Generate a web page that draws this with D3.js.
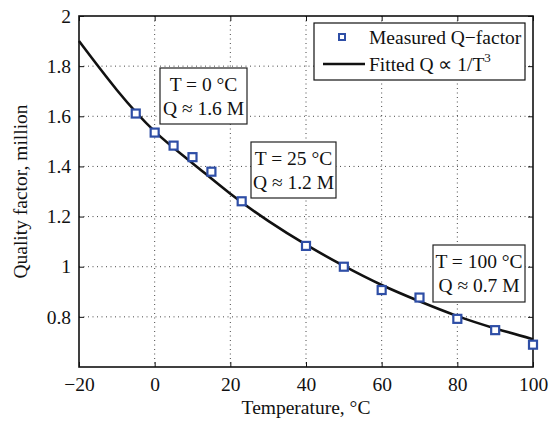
<!DOCTYPE html>
<html>
<head>
<meta charset="utf-8">
<script src="https://cdn.jsdelivr.net/npm/d3@7"></script>
<style>
  body { margin: 0; background: #fff; }
  text { font-family: "Liberation Serif", "Times New Roman", serif; fill: #111; }
</style>
</head>
<body>
<script>
// measured points
var measTemp = [-5, 0, 5, 10, 15, 23, 40, 50, 60, 70, 80, 90, 100];
var measQ = [1.611, 1.535, 1.483, 1.437, 1.379, 1.261, 1.083, 1.0, 0.907, 0.877, 0.792, 0.747, 0.689];

// fitted curve
var fitTemp = [-20, -10, 0, 10, 20, 30, 40, 50, 60, 70, 80, 90, 100];
var fitQ = [1.900, 1.705, 1.540, 1.413, 1.291, 1.183, 1.088, 1.003, 0.927, 0.862, 0.803, 0.754, 0.711];

var xTicks = [-20, 0, 20, 40, 60, 80, 100];
var yTicks = [0.8, 1, 1.2, 1.4, 1.6, 1.8, 2];

var notes = [
    ["T = 0 \u00B0C", "Q \u2248 1.6 M"],
    ["T = 25 \u00B0C", "Q \u2248 1.2 M"],
    ["T = 100 \u00B0C", "Q \u2248 0.7 M"]
];

var width = 550, height = 421,
    margin = {top: 16, right: 17, bottom: 54, left: 79},
    w = width - margin.left - margin.right,
    h = height - margin.top - margin.bottom;

var blue = "#2e4ea6",
    fs = "19.5px";

var svg = d3.select("body").append("svg")
    .attr("width", width)
    .attr("height", height);

var g = svg.append("g")
    .attr("transform", "translate(" + margin.left + "," + margin.top + ")");

var x = d3.scaleLinear().domain([-20, 100]).range([0, w]);
var y = d3.scaleLinear().domain([0.6, 2]).range([h, 0]);

// dotted grid
g.selectAll(".gx").data(xTicks.slice(1, -1)).enter().append("line")
    .attr("x1", function(d) { return x(d); })
    .attr("x2", function(d) { return x(d); })
    .attr("y1", 0).attr("y2", h)
    .attr("stroke", "#333").attr("stroke-width", 0.9)
    .attr("stroke-dasharray", "1,3.5");

g.selectAll(".gy").data(yTicks.slice(0, -1)).enter().append("line")
    .attr("y1", function(d) { return y(d); })
    .attr("y2", function(d) { return y(d); })
    .attr("x1", 0).attr("x2", w)
    .attr("stroke", "#333").attr("stroke-width", 0.9)
    .attr("stroke-dasharray", "1,3.5");

// axes, ticks inside on all four sides
function styleAxis(sel) {
    sel.select(".domain").remove();
    sel.selectAll("line").attr("stroke", "#111").attr("stroke-width", 1);
    sel.selectAll("text").style("font-size", fs).attr("fill", "#111");
}

g.append("g")
    .attr("transform", "translate(0," + h + ")")
    .call(d3.axisBottom(x).tickValues(xTicks).tickSizeInner(-5).tickSizeOuter(0).tickPadding(10)
        .tickFormat(function(d) { return d < 0 ? "\u2212" + Math.abs(d) : d; }))
    .call(styleAxis);

g.append("g")
    .call(d3.axisTop(x).tickValues(xTicks).tickSizeInner(-5).tickSizeOuter(0).tickFormat(""))
    .call(styleAxis);

g.append("g")
    .call(d3.axisLeft(y).tickValues(yTicks).tickSizeInner(-5).tickSizeOuter(0).tickPadding(8)
        .tickFormat(d3.format("~g")))
    .call(styleAxis);

g.append("g")
    .attr("transform", "translate(" + w + ",0)")
    .call(d3.axisRight(y).tickValues(yTicks).tickSizeInner(-5).tickSizeOuter(0).tickFormat(""))
    .call(styleAxis);

g.append("rect")
    .attr("width", w).attr("height", h)
    .attr("fill", "none").attr("stroke", "#111").attr("stroke-width", 1.6);

// fitted curve
var fitData = fitTemp.map(function(t, i) { return [t, fitQ[i]]; });
var line = d3.line()
    .x(function(d) { return x(d[0]); })
    .y(function(d) { return y(d[1]); })
    .curve(d3.curveNatural);

g.append("path")
    .datum(fitData)
    .attr("d", line)
    .attr("fill", "none")
    .attr("stroke", "#111")
    .attr("stroke-width", 2.6);

// measured points
var measData = measTemp.map(function(t, i) { return [t, measQ[i]]; });
g.selectAll(".pt").data(measData).enter().append("rect")
    .attr("x", function(d) { return x(d[0]) - 4; })
    .attr("y", function(d) { return y(d[1]) - 4; })
    .attr("width", 8).attr("height", 8)
    .attr("fill", "#fff")
    .attr("stroke", blue)
    .attr("stroke-width", 2.2);

// text boxes
var boxes = [
    {x: 160, y: 68, w: 87, h: 56},
    {x: 251, y: 142, w: 85, h: 56},
    {x: 433, y: 245, w: 92, h: 57}
];
boxes.forEach(function(b, i) {
    var bg = svg.append("g").attr("transform", "translate(" + b.x + "," + b.y + ")");
    bg.append("rect")
        .attr("width", b.w).attr("height", b.h)
        .attr("fill", "#fff").attr("stroke", "#222").attr("stroke-width", 1.2);
    bg.selectAll("text").data(notes[i]).enter().append("text")
        .attr("x", b.w / 2)
        .attr("y", function(d, j) { return 23 + j * 24; })
        .attr("text-anchor", "middle")
        .style("font-size", fs)
        .text(function(d) { return d; });
});

// legend
var lg = svg.append("g").attr("transform", "translate(314,23)");
lg.append("rect")
    .attr("width", 211).attr("height", 57)
    .attr("fill", "#fff").attr("stroke", "#111").attr("stroke-width", 1.2);
lg.append("rect")
    .attr("x", 25).attr("y", 11).attr("width", 6).attr("height", 6)
    .attr("fill", "#fff").attr("stroke", blue).attr("stroke-width", 2);
lg.append("text")
    .attr("x", 55).attr("y", 21)
    .style("font-size", fs)
    .text("Measured Q\u2212factor");
lg.append("line")
    .attr("x1", 9).attr("x2", 51).attr("y1", 41).attr("y2", 41)
    .attr("stroke", "#111").attr("stroke-width", 2.6);
var ft = lg.append("text")
    .attr("x", 55).attr("y", 48)
    .style("font-size", fs);
ft.append("tspan").text("Fitted Q \u221D 1/T");
ft.append("tspan").attr("dy", -9).style("font-size", "13px").text("3");

// axis labels
svg.append("text")
    .attr("x", margin.left + w / 2).attr("y", 414)
    .attr("text-anchor", "middle")
    .style("font-size", fs)
    .text("Temperature, \u00B0C");

svg.append("text")
    .attr("transform", "translate(27," + (margin.top + h / 2) + ") rotate(-90)")
    .attr("text-anchor", "middle")
    .style("font-size", fs)
    .text("Quality factor, million");
</script>
</body>
</html>
